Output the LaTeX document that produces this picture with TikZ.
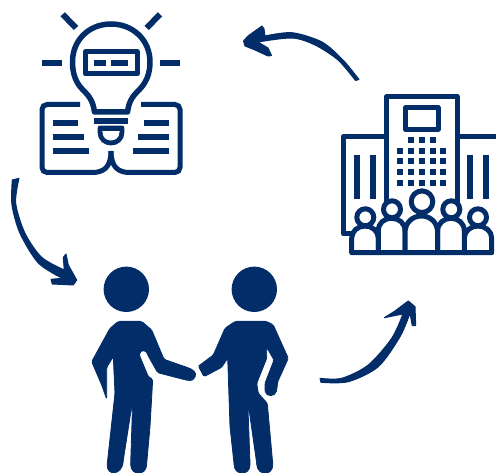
\documentclass[tikz,border=0pt]{standalone}
\definecolor{navy}{HTML}{032D68}
\tikzset{
  ln/.style={draw=navy,line width=5pt,line join=round,line cap=round},
  bar/.style={draw=navy,line width=6pt,line cap=butt},
  pers/.style={draw=navy,line width=5pt,fill=white,line join=round},
  win/.style={fill=navy},
  arrowfill/.style={fill=navy,draw=navy,line width=1pt,line join=round},
  solid fill/.style={fill=navy,draw=navy,line width=0.8pt,rounded corners=1.5pt}
}
\begin{document}
\begin{tikzpicture}[x=1pt,y=-1pt]
\useasboundingbox (0,0) rectangle (496,473);
% --- bulb and book
\foreach \a/\b/\c/\d in {42/62.7/62/62.7,160/62.7/180/62.7,62.7/14.3/76/28,160/14.3/146.7/28,
  52.7/122.7/78.3/122.7,52.7/136.7/84/136.7,52.7/150.7/89.3/150.7,
  144/122.7/169/122.7,138/136.7/169/136.7,133/150.7/169/150.7,
  94/120.7/128.3/120.7,94/63/106/63,111/63/128/63}
  \draw[bar] (\a,\b) -- (\c,\d);
\draw[ln,line width=5.5pt,line cap=butt] (94.5,112) .. controls (93,100) and (88,95) .. (83,90)
  .. controls (76,83) and (72.5,74) .. (72.5,62)
  .. controls (72.5,40) and (89,24) .. (111,24)
  .. controls (133,24) and (150,40) .. (150,62)
  .. controls (150,74) and (146,83) .. (139,90)
  .. controls (134,95) and (129,100) .. (127.5,112) -- cycle;
\draw[draw=navy,line width=5pt,line join=round] (85.3,52) rectangle (137,74);
\draw[draw=navy,line width=4.8pt,line join=round] (100,128) -- (122,128) -- (122,132)
  .. controls (122,139) and (117,143) .. (111,143)
  .. controls (105,143) and (100,139) .. (100,132) -- cycle;
\fill[navy] (99,126) rectangle (123,131);
\draw[draw=navy,line width=5pt,line cap=butt,rounded corners=5pt]
  (80,104.5) -- (42,104.5) -- (42,172.5) -- (92,172.5);
\draw[draw=navy,line width=5pt,line cap=butt,rounded corners=5pt]
  (141,104.5) -- (180,104.5) -- (180,172.5) -- (130,172.5);
\draw[draw=navy,line width=5pt,line cap=butt] (92,172.5)
  .. controls (103,172.5) and (111,168) .. (111,151);
\draw[draw=navy,line width=5pt,line cap=butt] (130,172.5)
  .. controls (119,172.5) and (111,168) .. (111,151);
% --- building
\draw[ln] (386.7,205) -- (386.7,96.3) -- (457,96.3) -- (457,205);
\draw[ln] (405.7,107.3) rectangle (438,129.3);
\draw[ln,line cap=butt] (386.7,136.7) -- (343.3,136.7) -- (343.3,234) -- (352,234);
\draw[ln,line cap=butt] (457,136.7) -- (496,136.7);
\foreach \x in {411,422,433} \fill[win] (\x-3,137) rectangle (\x+3,143);
\foreach \y in {151,161.3,172,182.7}
  \foreach \x in {400,411,422,433,443}
    \fill[win] (\x-3,\y-3) rectangle (\x+3,\y+3);
\foreach \x in {354,370,467,483}
  \fill[win] (\x,155) rectangle (\x+6,198.7);
% --- people
\draw[pers] (351.7,252.7) -- (351.7,238) .. controls (351.7,231) and (358,226) .. (365,226)
  .. controls (372,226) and (378.3,231) .. (378.3,238) -- (378.3,252.7) -- cycle;
\draw[pers] (464.3,252.7) -- (464.3,238) .. controls (464.3,231) and (471,226) .. (478,226)
  .. controls (485,226) and (491.7,231) .. (491.7,238) -- (491.7,252.7) -- cycle;
\draw[pers] (378.3,252.7) -- (378.3,231) .. controls (378.3,223) and (384,218.3) .. (391.7,218.3)
  .. controls (399,218.3) and (405,223) .. (405,231) -- (405,252.7) -- cycle;
\draw[pers] (437.7,252.7) -- (437.7,231) .. controls (437.7,223) and (444,218.3) .. (451,218.3)
  .. controls (458,218.3) and (464.3,223) .. (464.3,231) -- (464.3,252.7) -- cycle;
\draw[pers] (405,252.7) -- (405,233) .. controls (405,223) and (412,216) .. (421.3,216)
  .. controls (431,216) and (437.7,223) .. (437.7,233) -- (437.7,252.7) -- cycle;
\draw[pers] (365.3,217.3) circle (8.5);
\draw[pers] (392,209.3) circle (8.5);
\draw[pers] (451.3,209.3) circle (8.5);
\draw[pers] (478,217.3) circle (8.5);
\draw[pers] (422,201.7) circle (10.8);
% --- handshake figures
\fill[navy] (126.3,289.3) circle (22.7);
\fill[navy] (254.3,289.3) circle (22.7);
\path[solid fill] (118.3,321.4) -- (141.7,321.4) -- (151.7,330) -- (164,359.3) -- (185,366.7)
  .. controls (193,369) and (197,373) .. (194.5,377.5)
  .. controls (192.5,381) and (188,380.5) .. (184,379.5)
  -- (157.7,372.7) -- (147.7,355)
  .. controls (146,350) and (141,349.5) .. (139.3,355)
  -- (148.3,376.7) -- (152.7,379.3) -- (150,426.7) -- (146.7,463.3)
  .. controls (146.2,476) and (130.8,476) .. (130.7,463.3)
  -- (132.7,400) -- (123.3,460)
  .. controls (122,476) and (106.5,476) .. (107.3,463.3)
  -- (115,393.3) -- (113.3,356.7) -- (106.7,367.3) -- (106.7,399.3) -- (101.7,385)
  -- (91.7,361.7) -- (110,328.3) -- cycle;
\path[solid fill] (235,321.4) -- (266.7,321.4) -- (273.3,325) -- (288.3,358.3) -- (277.7,381.7)
  -- (276.7,390) .. controls (275,397) and (266,397) .. (265,390)
  -- (265,383.3) -- (274,360) -- (266.7,347.3) -- (266.7,358.3) -- (256.7,383.3)
  -- (258.3,393.3) -- (267.3,403.3) -- (272.7,463.3)
  .. controls (273,476) and (257.5,476) .. (256.7,463.3)
  -- (247.7,400) -- (250,463.3)
  .. controls (250,476) and (234.5,476) .. (234,463.3)
  -- (230,426.7) -- (227.7,358.3) -- (221.7,367.3) -- (204,376.7) -- (198.3,366) -- (200,365)
  -- (213.3,355) -- (225,328.3) -- cycle;
% --- arrows
\path[arrowfill] plot[smooth] coordinates {(265,36) (292,32.7) (322,42) (343,60) (359,79.5)}
  -- plot[smooth] coordinates {(355.5,80.5) (338,60) (315,45) (292,38) (258,42)}
  -- (268,48) -- (271.5,55.5) -- (268,56) -- (255,50) -- (245,46) -- (243.5,41) -- (248,36) -- (262,26) -- (264,29) -- cycle;
\path[arrowfill] plot[smooth] coordinates {(12.3,180) (12,205) (20,233.3) (38.3,263) (62.3,278.3)}
  -- (51,279.3) -- (52.3,284) -- (73.3,285) -- (76.7,280) -- (68.3,265) -- (66,254) -- (63.3,257.3) -- (64.3,270)
  -- plot[smooth] coordinates {(64.3,270) (41.7,257.3) (25,233.3) (15.7,203.3) (19,178.3)} -- cycle;
\path[arrowfill] plot[smooth] coordinates {(320,378.3) (341.7,378.3) (368.3,365) (391.7,338.3) (403,314)}
  -- (384.3,317.7) -- (395,311) -- (408.3,301) -- (415,306.7) -- (415.7,325.7) -- (412.3,325.7) -- (410,313.3)
  -- plot[smooth] coordinates {(410,313.3) (400,336.7) (378.3,366.7) (348.3,381.7) (321,382.3)} -- cycle;
\end{tikzpicture}
\end{document}
